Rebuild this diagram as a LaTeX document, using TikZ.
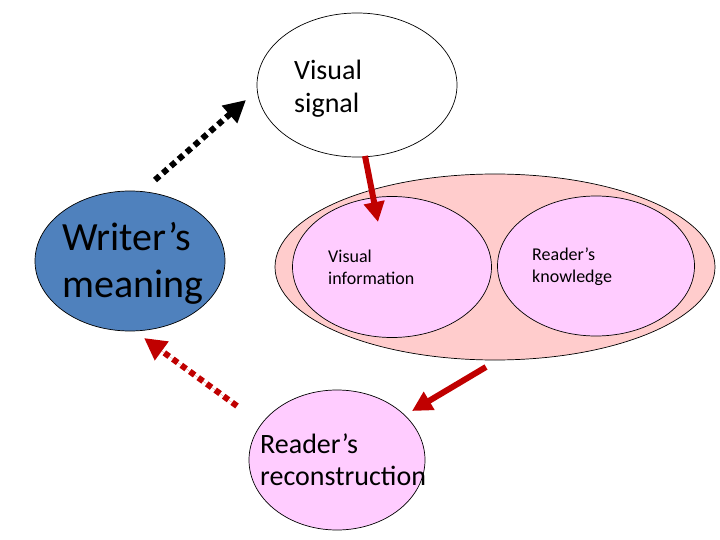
\documentclass[tikz,border=0pt]{standalone}
\usepackage{fontspec}
\setmainfont{Carlito}
\usepackage{tikz}
\usetikzlibrary{arrows.meta,positioning,shapes.geometric}

\definecolor{wblue}{HTML}{4F81BD}
\definecolor{salmon}{HTML}{FFCCCC}
\definecolor{lilac}{HTML}{FFCCFF}
\definecolor{darkred}{HTML}{C00000}

\begin{document}
\begin{tikzpicture}[x=1pt,y=-1pt,>=latex,
  oval/.style={ellipse, draw, line width=0.7pt, inner sep=0pt},
  txt/.style={anchor=west, align=left, inner sep=0pt},
  solidred/.style={line width=6pt, draw=darkred, -{Triangle[length=20pt,width=20pt]}},
  dotline/.style={line width=6pt, dash pattern=on 6pt off 4.5pt, -{Triangle[length=22pt,width=22pt]}}]

\useasboundingbox (0,0) rectangle (720,540);

\node (signal) [oval, fill=white, minimum width=200pt, minimum height=144pt] at (357,85) {};
\node (writer) [oval, fill=wblue, minimum width=190pt, minimum height=140pt] at (130,261) {};
\node (mind) [oval, fill=salmon, minimum width=440pt, minimum height=186pt] at (495,267) {};
\node (info) [oval, fill=lilac, minimum width=199pt, minimum height=141pt] at (392,267) {};
\node (know) [oval, fill=lilac, minimum width=197pt, minimum height=140pt] at (596,266) {};
\node (recon) [oval, fill=lilac, minimum width=176pt, minimum height=140pt] at (337,460) {};

\node (signaltxt) [txt, font=\fontsize{28}{33}\selectfont] at ([xshift=-63pt,yshift=-4pt]signal.center) {Visual\\signal};
\node (writertxt) [txt, font=\fontsize{40}{47}\selectfont] at ([xshift=-68pt,yshift=-2pt]writer.center) {Writer’s\\meaning};
\node (infotxt) [txt, font=\fontsize{18}{22}\selectfont] at ([xshift=-64pt]info.center) {Visual\\information};
\node (knowtxt) [txt, font=\fontsize{18}{22}\selectfont] at ([xshift=-64pt,yshift=-1pt]know.center) {Reader’s\\knowledge};
\node (recontxt) [txt, font=\fontsize{28}{32}\selectfont] at ([xshift=-77pt,yshift=0pt]recon.center) {Reader’s\\reconstruction};

\coordinate (w1) at (155,180);
\coordinate (w2) at (246,100);
\coordinate (s1) at (365,156);
\coordinate (s2) at (378,222);
\coordinate (m1) at (486,367);
\coordinate (m2) at (412,411);
\coordinate (r1) at (237,406);
\coordinate (r2) at (144,338);

\draw[dotline] (w1) -- (w2);
\draw[solidred] (s1) -- (s2);
\draw[solidred] (m1) -- (m2);
\draw[dotline, draw=darkred, fill=darkred] (r1) -- (r2);

\end{tikzpicture}
\end{document}
